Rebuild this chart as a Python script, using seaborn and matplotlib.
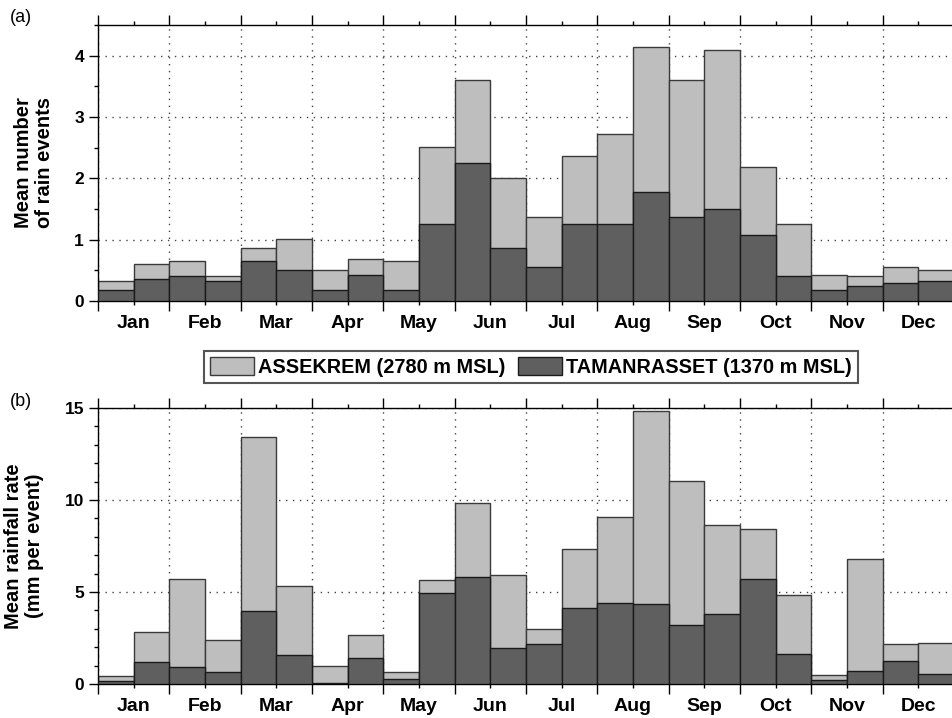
import matplotlib
matplotlib.use("Agg")
import matplotlib.pyplot as plt
from matplotlib.patches import Patch
from matplotlib.ticker import FixedLocator, MultipleLocator
import numpy as np
import pandas as pd
import seaborn as sns

months = ['Jan', 'Feb', 'Mar', 'Apr', 'May', 'Jun',
          'Jul', 'Aug', 'Sep', 'Oct', 'Nov', 'Dec']
periods = list(range(24))  # two half-month periods per month

assekrem_events = [0.33, 0.61, 0.65, 0.40, 0.87, 1.01, 0.51, 0.69, 0.65, 2.51, 3.60, 2.00,
                   1.37, 2.36, 2.72, 4.14, 3.60, 4.10, 2.18, 1.26, 0.43, 0.40, 0.55, 0.50]
tamanrasset_events = [0.18, 0.36, 0.40, 0.33, 0.65, 0.50, 0.18, 0.43, 0.18, 1.26, 2.25, 0.87,
                      0.55, 1.26, 1.26, 1.78, 1.37, 1.50, 1.08, 0.40, 0.18, 0.25, 0.29, 0.33]
assekrem_rate = [0.44, 2.83, 5.73, 2.38, 13.42, 5.30, 0.98, 2.65, 0.67, 5.66, 9.83, 5.90,
                 3.01, 7.35, 9.05, 14.82, 11.03, 8.62, 8.43, 4.81, 0.47, 6.80, 2.16, 2.23]
tamanrasset_rate = [0.15, 1.22, 0.93, 0.67, 3.99, 1.56, 0.07, 1.40, 0.25, 4.95, 5.79, 1.94,
                    2.18, 4.15, 4.39, 4.34, 3.19, 3.79, 5.73, 1.63, 0.20, 0.73, 1.27, 0.53]

label_a = 'ASSEKREM (2780 m MSL)'
label_t = 'TAMANRASSET (1370 m MSL)'

LIGHT = '#bebebe'
DARK = '#5f5f5f'

plt.rcParams['font.family'] = ['Liberation Sans', 'DejaVu Sans']

fig = plt.figure(figsize=(9.53, 7.18), dpi=100)
ax1 = fig.add_axes([98 / 953, 1 - 301 / 718, 856 / 953, 276 / 718])
ax2 = fig.add_axes([98 / 953, 1 - 684 / 718, 856 / 953, 276 / 718])


def draw(ax, light_vals, dark_vals, ymax, ymajor, yminor, ylabel, labelx):
    df = pd.DataFrame({'period': periods, 'light': light_vals, 'dark': dark_vals})
    sns.barplot(data=df, x='period', y='light', color=LIGHT, width=1.0, saturation=1,
                edgecolor='#3a3a3a', linewidth=1.0, ax=ax, zorder=2)
    sns.barplot(data=df, x='period', y='dark', color=DARK, width=1.0, saturation=1,
                edgecolor='#1a1a1a', linewidth=1.0, ax=ax, zorder=3)
    ax.set_xlim(-0.5, 23.5)
    ax.set_ylim(0, ymax)
    ax.set_xlabel('')
    # month boundaries (major), month centers (minor, labelled)
    ax.xaxis.set_major_locator(FixedLocator(np.arange(-0.5, 24, 2)))
    ax.xaxis.set_minor_locator(FixedLocator(np.arange(0.5, 24, 2)))
    ax.set_xticklabels([''] * 13)
    ax.set_xticklabels(months, minor=True, fontsize=14, fontweight='bold')
    ax.yaxis.set_major_locator(MultipleLocator(ymajor))
    ax.yaxis.set_minor_locator(MultipleLocator(yminor))
    for lab in ax.get_yticklabels():
        lab.set_fontsize(12.5)
        lab.set_fontweight('bold')
    ax.tick_params(axis='x', which='both', top=True, bottom=True, direction='out',
                   width=1.0, color='black')
    ax.tick_params(axis='x', which='major', length=7, labelbottom=False)
    ax.tick_params(axis='x', which='minor', length=3, pad=7)
    ax.tick_params(axis='y', which='both', left=True, right=False, direction='out', width=1.0)
    ax.tick_params(axis='y', which='major', length=6.5, pad=3.5)
    ax.tick_params(axis='y', which='minor', length=3)
    ax.spines['right'].set_visible(False)
    for s in ['left', 'top', 'bottom']:
        ax.spines[s].set_linewidth(1.0)
    ax.grid(True, which='major', axis='both', color='#444444',
            linestyle=(0, (1, 4)), linewidth=1.0, zorder=0)
    ax.set_axisbelow(True)
    ax.set_ylabel(ylabel, fontsize=14.5, fontweight='bold', linespacing=1.15)
    ax.yaxis.set_label_coords(labelx, 0.5)


draw(ax1, assekrem_events, tamanrasset_events, 4.5, 1, 0.5,
     'Mean number\nof rain events', -0.051)
draw(ax2, assekrem_rate, tamanrasset_rate, 15, 5, 1,
     'Mean rainfall rate\n(mm per event)', -0.063)

fig.text(10 / 953, 1 - 17 / 718, '(a)', fontsize=13, va='center', ha='left')
fig.text(10 / 953, 1 - 402 / 718, '(b)', fontsize=13, va='center', ha='left')

handles = [Patch(facecolor=LIGHT, edgecolor='#3a3a3a', linewidth=1.0, label=label_a),
           Patch(facecolor=DARK, edgecolor='#1a1a1a', linewidth=1.0, label=label_t)]
leg = fig.legend(handles=handles, loc='center', bbox_to_anchor=(531 / 953, 1 - 367 / 718),
                 ncol=2, frameon=True, fancybox=False, framealpha=1,
                 prop={'size': 14.3, 'weight': 'bold'},
                 handlelength=2.2, handleheight=1.0, handletextpad=0.2,
                 columnspacing=0.65, borderpad=0.3, borderaxespad=0)
leg.get_frame().set_edgecolor('#555555')
leg.get_frame().set_linewidth(1.5)

fig.savefig('out.png', dpi=100)
